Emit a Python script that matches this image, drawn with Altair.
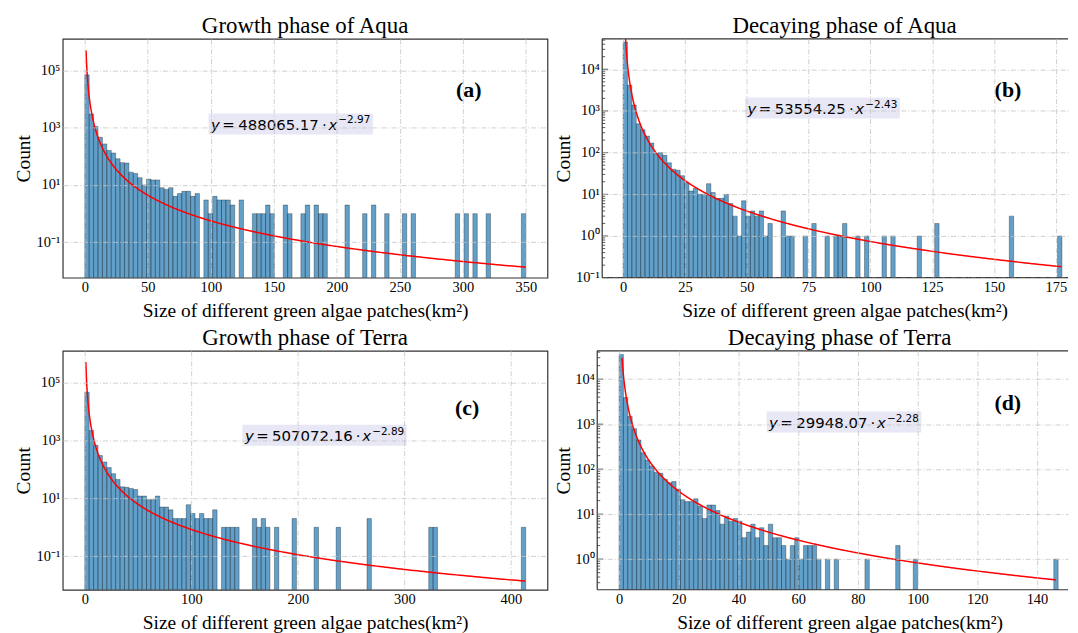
import math
import altair as alt
import pandas as pd

SERIF = "Liberation Serif"
SANS = "DejaVu Sans"

# ---------------- data ----------------
titles = ["Growth phase of Aqua", "Decaying phase of Aqua",
          "Growth phase of Terra", "Decaying phase of Terra"]
tags = ["(a)", "(b)", "(c)", "(d)"]
fit_coef = [488065.17, 53554.25, 507072.16, 29948.07]
fit_expo = [-2.97, -2.43, -2.89, -2.28]
bin_range = [[0.0, 350.0], [0.0, 177.5], [0.0, 414.0], [0.0, 147.1]]
fit_x_range = [[1.0, 350.0], [1.0, 177.3], [1.0, 413.5], [1.0, 146.4]]
x_ticks = [[0, 50, 100, 150, 200, 250, 300, 350],
           [0, 25, 50, 75, 100, 125, 150, 175],
           [0, 100, 200, 300, 400],
           [0, 20, 40, 60, 80, 100, 120, 140]]
y_ticks = [[0.1, 10, 1000, 100000],
           [0.1, 1, 10, 100, 1000, 10000],
           [0.1, 10, 1000, 100000],
           [1, 10, 100, 1000, 10000]]

counts_a = [69000, 3000, 1100, 460, 270, 160, 130, 82, 60, 58,
            28, 25, 18, 10, 16, 15, 15, 8, 7, 8,
            4, 5, 6, 6, 4, 5, 0, 3, 1, 4,
            3, 3, 3, 2, 0, 3, 0, 0, 1, 1,
            1, 2, 1, 0, 0, 2, 1, 0, 0, 1,
            2, 0, 2, 1, 1, 0, 0, 0, 0, 2,
            0, 0, 0, 1, 0, 2, 0, 0, 1, 0,
            0, 0, 1, 0, 1, 0, 0, 0, 0, 0,
            0, 0, 0, 0, 1, 0, 1, 0, 1, 0,
            0, 1, 0, 0, 0, 0, 0, 0, 0, 1]
counts_b = [45000, 4150, 1390, 490, 355, 250, 170, 95, 100, 86,
            57, 40, 38, 28, 19, 12, 14, 10, 10, 18,
            11, 8, 8, 10, 6, 3, 1, 7, 3, 4,
            3, 4, 1, 2, 0, 0, 4, 1, 1, 0,
            0, 1, 0, 2, 0, 0, 1, 0, 1, 1,
            2, 0, 0, 1, 0, 1, 0, 0, 0, 1,
            0, 1, 0, 0, 0, 0, 0, 1, 0, 0,
            0, 2, 0, 0, 0, 0, 0, 0, 0, 0,
            0, 0, 0, 0, 0, 0, 0, 0, 3, 0,
            0, 0, 0, 0, 0, 0, 0, 0, 0, 1]
counts_c = [46000, 2200, 680, 300, 180, 115, 71, 45, 25, 24,
            22, 20, 12, 12, 9, 9, 12, 5, 5, 4,
            2, 2, 2, 6, 3, 2, 3, 2, 2, 4,
            0, 1, 1, 1, 1, 0, 0, 0, 2, 1,
            2, 1, 0, 1, 0, 0, 0, 2, 0, 0,
            0, 0, 1, 0, 0, 0, 0, 1, 0, 0,
            0, 0, 0, 0, 2, 0, 0, 0, 0, 0,
            0, 0, 0, 0, 0, 0, 0, 0, 1, 1,
            0, 0, 0, 0, 0, 0, 0, 0, 0, 0,
            0, 0, 0, 0, 0, 0, 0, 0, 0, 1]
counts_d = [35600, 3900, 1500, 790, 445, 233, 160, 118, 84, 81,
            60, 50, 53, 36, 21, 19, 19, 22, 15, 8,
            16, 16, 12, 6, 9, 7, 8, 7, 3, 4,
            6, 3, 5, 2, 6, 3, 3, 2, 1, 2,
            3, 1, 2, 2, 2, 1, 0, 1, 0, 1,
            0, 0, 0, 0, 0, 0, 1, 0, 0, 0,
            0, 0, 0, 2, 0, 0, 0, 1, 0, 0,
            0, 0, 0, 0, 0, 0, 0, 0, 0, 0,
            0, 0, 0, 0, 0, 0, 0, 0, 0, 0,
            0, 0, 0, 0, 0, 0, 0, 0, 0, 1]
counts_all = [counts_a, counts_b, counts_c, counts_d]

# ---------------- layout / style ----------------
X_DOMAIN = [[-17.5, 367.2], [-8.45, 179.95], [-20.7, 434.4], [-7.3, 150.4]]
Y_DOMAIN_LOG10 = [[-2.234, 6.095], [-1.0, 4.73], [-2.155, 6.09], [-0.68, 4.63]]
WIDTH = [487, 468, 487, 473]
HEIGHT = 240
Y_TITLE_X = [-39, -39, -39, -34]
CENTER_X = 243.5
TITLE_BASE = -5.5
FULL_FRAME = [True, False, True, False]
MINOR_TICKS = [False, True, False, True]
ANN_X0 = [149, 146, 183, 172.7]
ANN_BASE = [91.5, 75.5, 90.8, 77.5]
TAG_X = [408, 407.7, 406.3, 412.5]
TAG_BASE = [58.7, 58.7, 64.3, 59.3]
FRAME_COLOR = "#333333"
ANN_SIZE = 15
EXP_SIZE = 10.5

LABEL_EXPR = ("['10\u207b\u00b9','10\u2070','10\u00b9','10\u00b2','10\u00b3',"
              "'10\u2074','10\u2075','10\u2076'][round(log(datum.value)/LN10)+1]")

one_row = pd.DataFrame({"k": [0]})


def txt(text, x, y, size, style="normal", weight="normal", font=SANS, align="left"):
    return alt.Chart(one_row).mark_text(
        text=text, font=font, fontSize=size, fontStyle=style, fontWeight=weight,
        align=align, baseline="alphabetic", color="black"
    ).encode(x=alt.value(x), y=alt.value(y))


def log_minor_positions(lo_log, hi_log):
    out = []
    for e in range(math.floor(lo_log), math.ceil(hi_log) + 1):
        for m in range(2, 10):
            v = m * 10.0 ** e
            if 10 ** lo_log < v < 10 ** hi_log:
                out.append(v)
    return out


def panel(i):
    W, H = WIDTH[i], HEIGHT
    counts = counts_all[i]
    lo, hi = bin_range[i]
    step = (hi - lo) / len(counts)
    df = pd.DataFrame({"count": counts})
    df["left"] = lo + step * df.index.to_numpy()
    df["right"] = df["left"] + step
    df = df[df["count"] > 0].reset_index(drop=True)

    ymin = 10 ** Y_DOMAIN_LOG10[i][0]
    ymax = 10 ** Y_DOMAIN_LOG10[i][1]
    xsc = alt.Scale(domain=X_DOMAIN[i], nice=False, zero=False)
    ysc = alt.Scale(type="log", domain=[ymin, ymax], nice=False)
    xax = alt.Axis(values=x_ticks[i], format="d",
                   title="Size of different green algae patches(km\u00b2)",
                   titleX=CENTER_X, titleY=33, titleBaseline="middle", zindex=1)
    yax = alt.Axis(values=y_ticks[i], labelExpr=LABEL_EXPR, title="Count",
                   titleX=Y_TITLE_X[i], titleY=H / 2, titleBaseline="middle",
                   titleAngle=270, zindex=1)

    bars = alt.Chart(df).mark_bar(
        fill="#1f77b4", fillOpacity=0.7, stroke="#000000", strokeOpacity=0.5,
        strokeWidth=0.6, clip=True
    ).encode(
        x=alt.X("left:Q", scale=xsc, axis=xax),
        x2="right:Q",
        y=alt.Y("count:Q", scale=ysc, axis=yax),
        y2=alt.datum(ymin),
    )

    x0f, x1f = fit_x_range[i]
    t0, t1 = math.log10(x0f), math.log10(x1f)
    dt = (t1 - t0) / 600
    fit = alt.Chart(alt.sequence(t0, t1 + dt / 2, dt, as_="t")).transform_calculate(
        fx="pow(10, datum.t)"
    ).transform_calculate(
        fy=f"{fit_coef[i]} * pow(datum.fx, {fit_expo[i]})"
    ).transform_filter(
        f"datum.fx <= {x1f * 1.0001}"
    ).mark_line(color="#ff0000", strokeWidth=1.5, clip=True).encode(
        x=alt.X("fx:Q", scale=xsc, axis=xax),
        y=alt.Y("fy:Q", scale=ysc, axis=yax),
    )

    # annotation  y = a * x^b
    num = f"{fit_coef[i]:.2f}"
    expo = "\u2212" + f"{abs(fit_expo[i]):.2f}"
    x0, base = ANN_X0[i], ANN_BASE[i]
    num_w = (len(num) - 1) * 0.636 * ANN_SIZE + 0.318 * ANN_SIZE
    num_x = x0 + 27.3
    nend = num_x + num_w
    exp_x = nend + 19.5
    exp_w = (0.838 + 0.636 * 3 + 0.318) * EXP_SIZE
    box = alt.Chart(one_row).mark_rect(color="#e6e6f6", opacity=0.95).encode(
        x=alt.value(x0 - 2.5), x2=alt.value(exp_x + exp_w + 2.5),
        y=alt.value(base - 16.5), y2=alt.value(base + 4.5))
    ann = [
        box,
        txt("y", x0, base, ANN_SIZE, style="italic"),
        txt("=", x0 + 11.3, base, ANN_SIZE),
        txt(num, num_x, base, ANN_SIZE),
        txt("\u00b7", nend + 5.5, base, ANN_SIZE, align="center"),
        txt("x", nend + 9.5, base, ANN_SIZE, style="italic"),
        txt(expo, exp_x, base - 6.5, EXP_SIZE),
    ]
    tag = txt(tags[i], TAG_X[i], TAG_BASE[i], 22, weight="bold", font=SERIF, align="center")
    title = txt(titles[i], CENTER_X, TITLE_BASE, 23, font=SERIF, align="center")

    layers = [bars, fit] + ann + [tag, title]

    if MINOR_TICKS[i]:
        minor = pd.DataFrame({"v": log_minor_positions(*Y_DOMAIN_LOG10[i])})
        major = pd.DataFrame({"v": y_ticks[i]})
        layers += [
            alt.Chart(minor).mark_rule(color=FRAME_COLOR, strokeWidth=0.8).encode(
                x=alt.value(0), x2=alt.value(3),
                y=alt.Y("v:Q", scale=ysc, axis=yax)),
            alt.Chart(major).mark_rule(color=FRAME_COLOR, strokeWidth=0.9).encode(
                x=alt.value(0), x2=alt.value(6),
                y=alt.Y("v:Q", scale=ysc, axis=yax)),
        ]

    props = dict(width=W, height=H)
    if not FULL_FRAME[i]:
        layers += [
            alt.Chart(one_row).mark_rule(color=FRAME_COLOR, strokeWidth=1.2).encode(
                x=alt.value(0), y=alt.value(0), y2=alt.value(H)),
            alt.Chart(one_row).mark_rule(color=FRAME_COLOR, strokeWidth=1.2).encode(
                x=alt.value(0), x2=alt.value(W), y=alt.value(0)),
            alt.Chart(one_row).mark_rule(color=FRAME_COLOR, strokeWidth=1.2).encode(
                x=alt.value(0), x2=alt.value(W), y=alt.value(H)),
        ]
        props["view"] = alt.ViewBackground(stroke="transparent")
    return alt.layer(*layers).properties(**props)


row1 = alt.hconcat(panel(0), panel(1), spacing=4)
row2 = alt.hconcat(panel(2), panel(3), spacing=4)

chart = alt.vconcat(row1, row2, spacing=4.5).properties(
    padding={"left": 5, "top": 4.5, "right": 0, "bottom": 0},
    background="white",
).configure_view(
    stroke=FRAME_COLOR, strokeWidth=1.2
).configure_axis(
    labelFont=SERIF, labelFontSize=14.5, labelColor="black", labelPadding=3,
    titleFont=SERIF, titleFontSize=19.5, titleFontWeight="normal", titleColor="black",
    domain=False, ticks=False, grid=True, gridColor="#c4c4c4", gridDash=[5, 2, 1, 2],
    gridWidth=0.8,
)

chart.save("out.html", embed_options={"renderer": "svg", "actions": False})
